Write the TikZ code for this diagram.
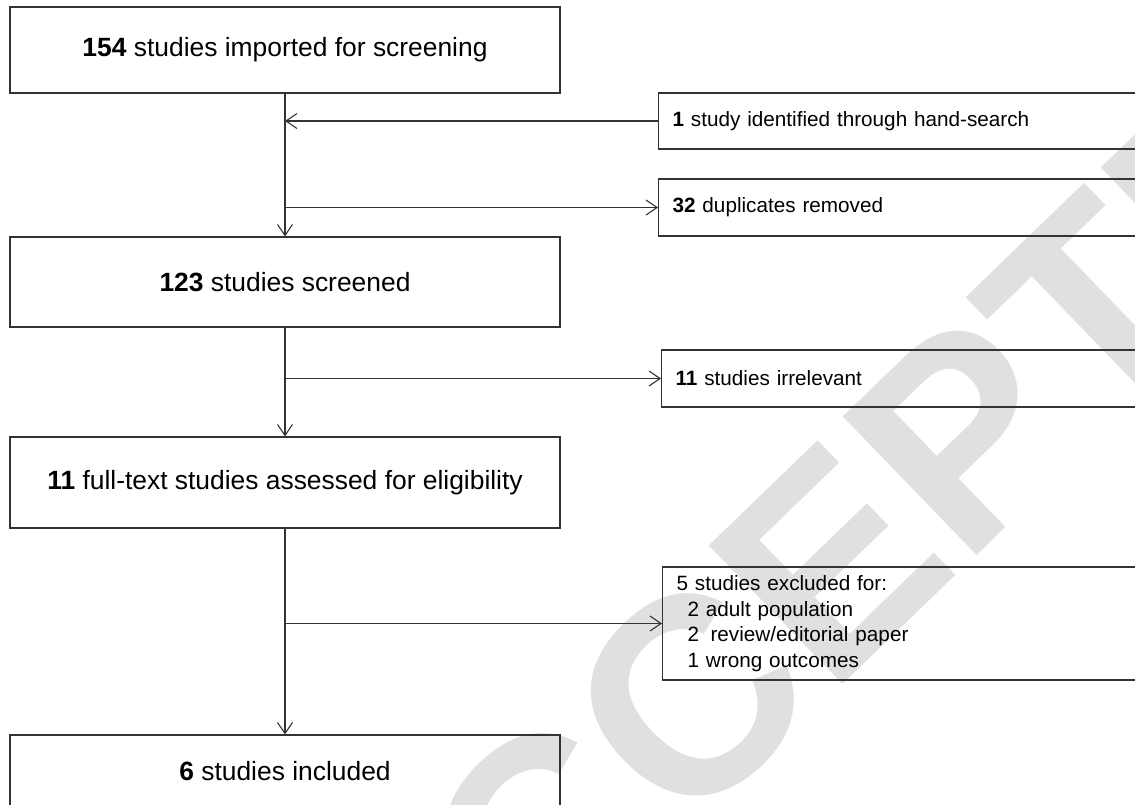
\documentclass[tikz,border=0pt]{standalone}
\usepackage{fontspec}
\setmainfont{Liberation Sans}
\usetikzlibrary{arrows.meta}
\tikzset{
    MB/.style ={rectangle, draw=black!80, line width=1.1pt, minimum width=550pt, align=center, font=\fontsize{26.4}{30}\selectfont},
    SB/.style ={rectangle, draw=black!80, line width=1.1pt, anchor=west, text width=459pt, inner xsep=14pt, align=left, font=\fontsize{20.7}{25.6}\selectfont},
    AR/.style ={draw=black!80, line width=1.1pt, -{Straight Barb[length=11pt,width=15pt]}},
    WM/.style ={text=black!12, rotate=44, inner sep=0pt, font=\fontsize{280}{280}\selectfont\bfseries}}
\begin{document}
\begin{tikzpicture}[x=1pt,y=-1pt]
        \path[use as bounding box, clip] (0,0) rectangle (1135,804);
        \node[WM] (wm) at (880,515) {ACCEPTED};
        % main column
        \node[MB, minimum height=86pt] (imp) at (285,50) {\textbf{154} studies imported for screening};
        \node[MB, minimum height=90pt] (scr) at (285,282) {\textbf{123} studies screened};
        \node[MB, minimum height=91pt] (ful) at (285,482.5) {\textbf{11} full-text studies assessed for eligibility};
        \node[MB, minimum height=73pt] (inc) at (285,771.5) {\textbf{6} studies included};
        % side boxes
        \node[SB, minimum height=56pt] (hand) at (658,121) {\textbf{1} study identified through hand-search};
        \node[SB, minimum height=57pt] (dup) at (658,207.5) {\textbf{32} duplicates removed};
        \node[SB, minimum height=57pt] (irr) at (661,378.5) {\textbf{11} studies irrelevant};
        \node[SB, minimum height=113pt] (exc) at (662,623.5) {5 studies excluded for:\\
            \hspace*{11pt}2 adult population\\
            \hspace*{11pt}2\hspace{11.5pt}review/editorial paper\\
            \hspace*{11pt}1 wrong outcomes};
        % connectors
        \draw[AR] (imp.south) -- (scr.north);
        \draw[AR] (hand.west) -- (imp.south |- hand.west);
        \draw[AR] (imp.south |- dup.west) -- (dup.west);
        \draw[AR] (scr.south) -- (ful.north);
        \draw[AR] (scr.south |- irr.west) -- (irr.west);
        \draw[AR] (ful.south) -- (inc.north);
        \draw[AR] (ful.south |- exc.west) -- (exc.west);
    \end{tikzpicture}
\end{document}
